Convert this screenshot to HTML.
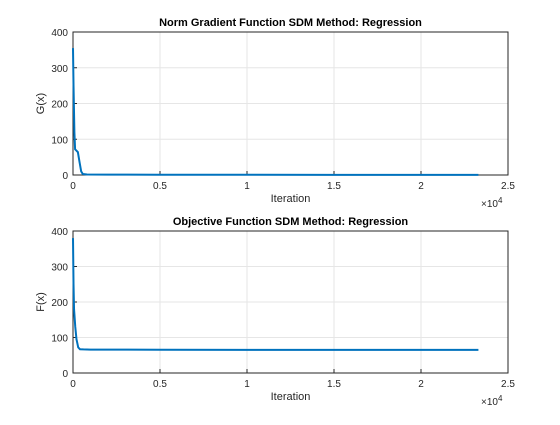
<!DOCTYPE html>
<html><head><meta charset="utf-8"><style>
body{margin:0;background:#fff;font-family:"Liberation Sans",Arial,sans-serif}
svg text{font-family:"Liberation Sans",Arial,sans-serif;fill:#262626}
</style></head><body>
<svg id="c" width="560" height="420"></svg>
<script>
const topIter=[0,30,80,120,200,280,380,470,560,800,2000,5000,10000,15000,20000,23300];
const topVals=[355,250,120,72,68,64,35,10,3,1.5,1.0,0.8,0.6,0.5,0.5,0.5];
const botIter=[0,30,60,130,200,300,400,600,1000,2000,5000,10000,15000,20000,23300];
const botVals=[380,250,180,130,95,72,67,66.5,66,66,65.5,65,65,65,65];
const xTicks=[0,0.5,1,1.5,2,2.5];
const yTicks=[0,100,200,300,400];
const NS="http://www.w3.org/2000/svg";
const svg=document.getElementById('c');
function mk(t,a,p){const e=document.createElementNS(NS,t);for(const k in a)e.setAttribute(k,a[k]);(p||svg).appendChild(e);return e;}
function panel(top,bot,title,ylab,xs,ys,nm){
  const L=73,R=508;
  const X=v=>L+v/25000*(R-L), Y=v=>bot-v/400*(bot-top);
  const g=mk('g',{});
  
  
  xTicks.forEach(t=>{const x=X(t*1e4);
    mk('line',{x1:x,x2:x,y1:top,y2:bot,stroke:'#e6e6e6','stroke-width':1},g);
    mk('line',{x1:x,x2:x,y1:bot,y2:bot-4,stroke:'#262626'},g);
    const tx=mk('text',{x:x,y:bot+14,'font-size':10,'text-anchor':'middle'},g);tx.textContent=t;
    
    });
  yTicks.forEach(t=>{const y=Y(t);
    mk('line',{x1:L,x2:R,y1:y,y2:y,stroke:'#e6e6e6','stroke-width':1},g);
    mk('line',{x1:L,x2:L+4,y1:y,y2:y,stroke:'#262626'},g);
    const tx=mk('text',{x:L-5,y:y+4,'font-size':10,'text-anchor':'end'},g);tx.textContent=t;
    
    });
  mk('rect',{x:L,y:top,width:R-L,height:bot-top,fill:'none',stroke:'#262626','stroke-width':1},g);
  const pts=xs.map((v,i)=>X(v).toFixed(2)+','+Y(ys[i]).toFixed(2)).join(' ');
  const pl=mk('polyline',{points:pts,fill:'none',stroke:'#0072bd','stroke-width':2},g);
  
  
  const ti=mk('text',{x:(L+R)/2,y:top-6,'font-size':11,'font-weight':'bold','text-anchor':'middle',style:'fill:#000'},g);ti.textContent=title;
  
  
  const xl=mk('text',{x:(L+R)/2,y:bot+27,'font-size':11,'text-anchor':'middle'},g);xl.textContent='Iteration';
  
  
  const yl=mk('text',{x:0,y:0,'font-size':11,'text-anchor':'middle',transform:`translate(44,${(top+bot)/2}) rotate(-90)`},g);yl.textContent=ylab;
  
  
  const ex=mk('text',{x:R-27,y:bot+32,'font-size':10},g);ex.innerHTML='×10<tspan dy="-4" font-size="8">4</tspan>';
  
  
}
panel(32,175,'Norm Gradient Function SDM Method: Regression','G(x)',topIter,topVals,'gradient');
panel(231,373,'Objective Function SDM Method: Regression','F(x)',botIter,botVals,'objective');
</script>
</body></html>
